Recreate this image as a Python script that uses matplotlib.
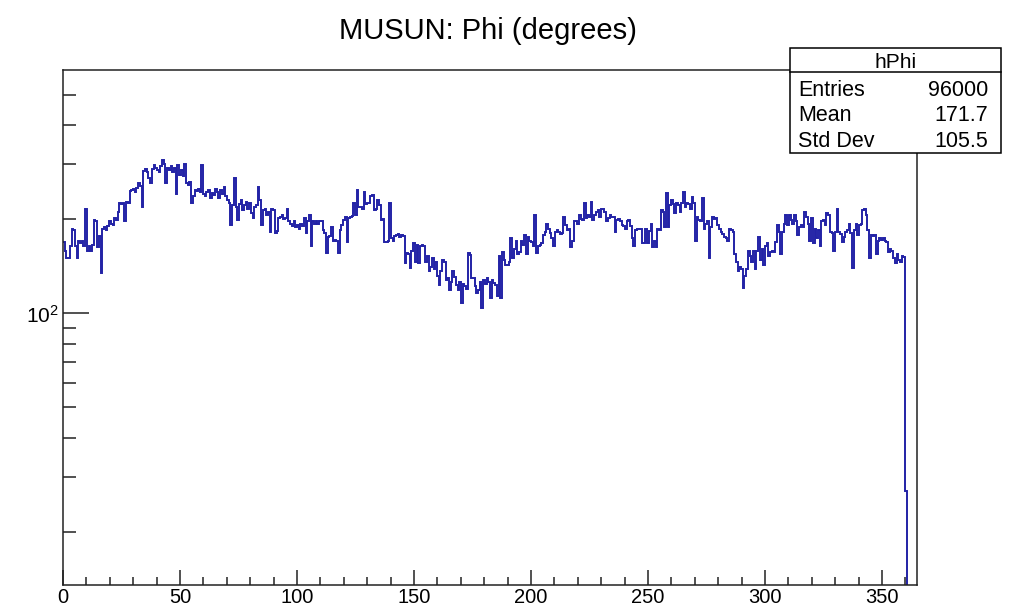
import numpy as np
import matplotlib
matplotlib.use("Agg")
import matplotlib.pyplot as plt
from matplotlib.patches import Rectangle
from matplotlib.lines import Line2D
from matplotlib.ticker import NullFormatter

plt.rcParams["font.family"] = ["Liberation Sans", "DejaVu Sans"]

# hPhi: 500 bins over 0-365 degrees, counts (10 bins per row)
N_BINS = 500
X_MIN, X_MAX = 0.0, 365.0
counts = [
    169, 159, 151, 150, 165, 187, 185, 165, 151, 170,
    168, 171, 164, 216, 158, 165, 159, 166, 199, 197,
    163, 177, 135, 186, 189, 185, 190, 197, 194, 192,
    202, 199, 211, 225, 224, 226, 197, 228, 225, 246,
    248, 250, 245, 252, 262, 256, 219, 285, 291, 284,
    271, 262, 290, 298, 292, 287, 283, 296, 309, 300,
    262, 292, 287, 296, 283, 292, 242, 298, 277, 287,
    275, 300, 262, 257, 264, 226, 237, 248, 246, 250,
    245, 298, 241, 237, 245, 248, 235, 243, 239, 250,
    245, 235, 248, 241, 254, 237, 230, 225, 192, 222,
    271, 220, 199, 224, 230, 214, 222, 227, 216, 225,
    209, 202, 220, 222, 254, 230, 192, 214, 216, 206,
    211, 182, 216, 214, 181, 184, 202, 203, 206, 200,
    202, 216, 197, 193, 190, 197, 189, 192, 187, 193,
    190, 202, 181, 197, 206, 165, 197, 193, 197, 194,
    197, 197, 185, 181, 156, 176, 177, 189, 171, 172,
    171, 156, 185, 192, 199, 203, 169, 202, 203, 205,
    226, 207, 248, 219, 220, 216, 245, 224, 225, 226,
    237, 239, 214, 216, 230, 222, 199, 200, 169, 169,
    171, 225, 174, 171, 177, 178, 179, 176, 178, 177,
    145, 156, 155, 140, 159, 168, 146, 166, 145, 164,
    166, 165, 146, 153, 137, 141, 150, 139, 146, 132,
    123, 137, 148, 146, 128, 130, 119, 126, 137, 131,
    123, 119, 126, 108, 124, 122, 120, 156, 154, 130,
    130, 122, 116, 119, 126, 104, 128, 124, 130, 126,
    112, 128, 125, 123, 114, 153, 112, 157, 148, 143,
    143, 146, 174, 151, 161, 171, 155, 157, 171, 166,
    178, 155, 176, 171, 169, 165, 206, 156, 164, 166,
    168, 178, 182, 194, 187, 181, 174, 165, 182, 185,
    182, 179, 181, 203, 192, 185, 186, 163, 171, 197,
    197, 194, 206, 200, 199, 225, 202, 206, 203, 228,
    199, 207, 211, 214, 203, 216, 216, 211, 197, 202,
    206, 203, 204, 182, 199, 200, 197, 192, 190, 187,
    197, 199, 190, 174, 165, 185, 187, 186, 187, 168,
    168, 187, 168, 183, 194, 163, 171, 163, 187, 185,
    214, 212, 189, 243, 189, 222, 230, 224, 209, 226,
    222, 211, 225, 245, 220, 226, 224, 216, 236, 225,
    171, 203, 199, 197, 234, 187, 194, 197, 151, 189,
    203, 200, 202, 192, 187, 182, 179, 176, 174, 171,
    187, 185, 182, 155, 146, 137, 141, 139, 121, 132,
    139, 159, 153, 146, 159, 139, 159, 176, 148, 161,
    143, 165, 168, 153, 157, 159, 157, 169, 192, 182,
    155, 182, 194, 206, 192, 206, 199, 194, 206, 197,
    178, 189, 192, 189, 211, 203, 194, 171, 202, 168,
    187, 174, 185, 165, 197, 199, 192, 209, 206, 182,
    181, 159, 182, 216, 182, 179, 169, 176, 182, 185,
    194, 181, 140, 185, 194, 178, 192, 194, 214, 216,
    206, 185, 151, 178, 177, 178, 155, 171, 174, 172,
    174, 171, 169, 157, 161, 159, 150, 145, 155, 148,
    146, 153, 152, 27, 0, 0, 0, 0, 0, 0,
]

TITLE = "MUSUN: Phi (degrees)"
STATS_NAME = "hPhi"
STATS_ROWS = [("Entries", "96000"), ("Mean", "171.7"), ("Std Dev", "105.5")]
X_MAJOR = [0, 50, 100, 150, 200, 250, 300, 350]
Y_MINOR = [20, 30, 40, 50, 60, 70, 80, 90, 200, 300, 400, 500]

LINE = "#2323a6"
W, H = 1017, 609

fig = plt.figure(figsize=(W / 100, H / 100), dpi=100)
ax = fig.add_axes([63 / W, 1 - 585 / H, (917 - 63) / W, (585 - 70) / H])

edges = np.linspace(X_MIN, X_MAX, N_BINS + 1)
vals = np.asarray(counts, dtype=float)
ax.stairs(np.where(vals > 0, vals, 1e-3), edges, baseline=None,
          color=LINE, linewidth=1.4)

ax.set_yscale("log")
ax.set_xlim(X_MIN, X_MAX)
ax.set_ylim(13.5, 602)

ax.set_xticks(X_MAJOR)
ax.set_xticks(np.arange(0, 361, 10), minor=True)
ax.set_yticks([100], labels=[r"$\mathregular{10^{2}}$"])
ax.set_yticks(Y_MINOR, minor=True)
ax.yaxis.set_minor_formatter(NullFormatter())

ax.tick_params(which="both", direction="in", top=False, right=False,
               width=1.1, colors="#222222", labelcolor="black")
ax.tick_params(axis="x", which="major", length=11, labelsize=14.5, pad=2)
ax.tick_params(axis="x", which="minor", length=5.5)
ax.tick_params(axis="y", which="major", length=19, labelsize=15, pad=3)
ax.tick_params(axis="y", which="minor", length=9.5)
for sp in ax.spines.values():
    sp.set_linewidth(1.1)
    sp.set_color("#222222")

fig.text(488 / W, 1 - 31 / H, TITLE, ha="center", va="center", fontsize=21)

# ROOT stats box, sits over the top-right corner of the frame
bx0, bx1, by0, by1 = 790 / W, 1001 / W, 1 - 153 / H, 1 - 48 / H
fig.add_artist(Rectangle((bx0, by0), bx1 - bx0, by1 - by0, transform=fig.transFigure,
                         facecolor="white", edgecolor="black", linewidth=1.1, zorder=5))
sep = 1 - 72 / H
fig.add_artist(Line2D([bx0, bx1], [sep, sep], transform=fig.transFigure,
                      color="black", linewidth=1.1, zorder=6))
fig.text((bx0 + bx1) / 2, 1 - 62 / H, STATS_NAME, ha="center", va="center",
         fontsize=15, zorder=7)
for k, (name, value) in enumerate(STATS_ROWS):
    y = 1 - (90 + 25.5 * k) / H
    fig.text(798 / W, y, name, ha="left", va="center", fontsize=15.5, zorder=7)
    fig.text(988 / W, y, value, ha="right", va="center", fontsize=15.5, zorder=7)

fig.savefig("out.png", dpi=100)
